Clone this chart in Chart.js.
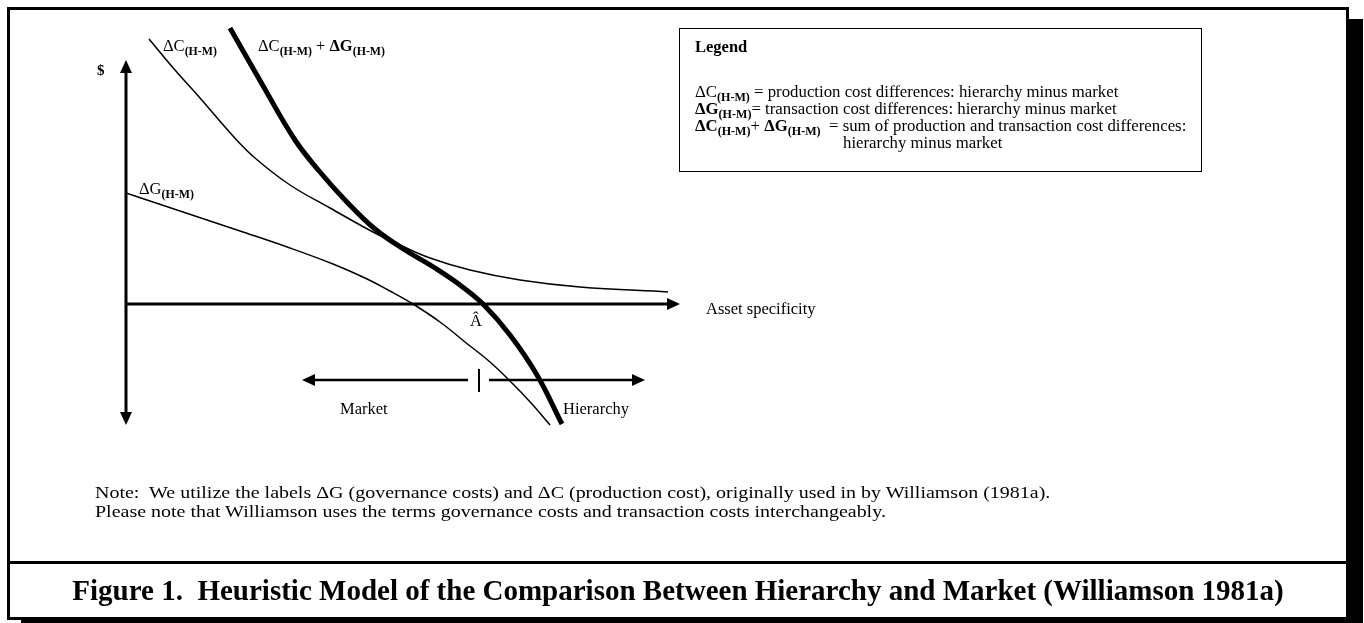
<!DOCTYPE html>
<html>
<head>
<meta charset="utf-8">
<script src="https://cdn.jsdelivr.net/npm/chart.js@4.4.1/dist/chart.umd.min.js"></script>
<style>
  body { margin: 0; background: #fff; font-family: "Liberation Serif", "Times New Roman", serif; color: #000; overflow: hidden; }
  #frame { position: absolute; left: 7px; top: 7px; width: 1336px; height: 607px; border: 3px solid #000; background: #fff; box-shadow: 14px 12px 0 #000; }
  #divider { position: absolute; left: 7px; top: 561px; width: 1342px; height: 3px; background: #000; }
  #wrap { position: absolute; left: 0; top: 0; width: 1364px; height: 623px; }
  .lbl { position: absolute; font-size: 16.5px; white-space: nowrap; line-height: 1; }
  sub { font-size: 0.72em; font-weight: bold; vertical-align: -0.3em; line-height: 0; }
  #legend { position: absolute; left: 679px; top: 28px; width: 521px; height: 142px; border: 1.5px solid #000; }
  #legend .title { position: absolute; left: 15px; top: 10px; font-weight: bold; font-size: 16.5px; line-height: 1; }
  #legend .rows { position: absolute; left: 15px; top: 54px; font-size: 16.8px; line-height: 17px; white-space: nowrap; }
  #note { position: absolute; left: 95px; top: 483px; font-size: 17px; line-height: 19px; white-space: nowrap; transform: scaleX(1.176); transform-origin: 0 0; }
  #caption { position: absolute; left: 7px; width: 1342px; top: 575px; text-align: center; font-weight: bold; font-size: 29px; line-height: 30px; white-space: nowrap; }
  canvas { position: absolute; left: 0; top: 0; }
</style>
</head>
<body>
<div id="frame"></div>
<div id="divider"></div>
<div id="wrap">
  <canvas id="chart" width="1364" height="623"></canvas>
</div>

<div class="lbl" style="left:97px; top:63px; font-weight:bold; font-size:15px;">$</div>
<div class="lbl" style="left:163px; top:38px;">&Delta;C<sub>(H-M)</sub></div>
<div class="lbl" style="left:258px; top:38px;">&Delta;C<sub>(H-M)</sub> + <b>&Delta;G</b><sub>(H-M)</sub></div>
<div class="lbl" style="left:139px; top:181px;">&Delta;G<sub>(H-M)</sub></div>
<div class="lbl" style="left:706px; top:301px;">Asset specificity</div>
<div class="lbl" style="left:470px; top:313px;">&Acirc;</div>
<div class="lbl" style="left:340px; top:401px;">Market</div>
<div class="lbl" style="left:563px; top:401px;">Hierarchy</div>

<div id="legend">
  <div class="title">Legend</div>
  <div class="rows">
    &Delta;C<sub>(H-M)</sub> = production cost differences: hierarchy minus market<br>
    <b>&Delta;G</b><sub>(H-M)</sub>= transaction cost differences: hierarchy minus market<br>
    <b>&Delta;C</b><sub>(H-M)</sub>+ <b>&Delta;G</b><sub>(H-M)</sub> &nbsp;= sum of production and transaction cost differences:<br>
    <span style="padding-left:148px;">hierarchy minus market</span>
  </div>
</div>

<div id="note">
  Note:&nbsp; We utilize the labels &Delta;G (governance costs) and &Delta;C (production cost), originally used in by Williamson (1981a).<br>
  Please note that Williamson uses the terms governance costs and transaction costs interchangeably.
</div>

<div id="caption">Figure 1.&nbsp; Heuristic Model of the Comparison Between Hierarchy and Market (Williamson 1981a)</div>

<script>
// asset specificity (x) and cost difference (y), origin where the two axes cross
const costX = [23, 49, 74, 107, 129, 164, 204, 247, 274, 304, 344, 394, 454, 542];
const costY = [265, 234, 206, 168, 146, 119, 96, 72, 59, 46, 34, 24, 17, 12];

const govX = [0, 54, 114, 164, 207, 239, 264, 287, 314, 339, 364, 387, 406, 424];
const govY = [111, 93, 73, 56, 40, 26, 13, 0, -18, -38, -58, -80, -100, -121];

const sumX = [104, 136, 169, 194, 219, 249, 279, 309, 334, 357, 384, 411, 436];
const sumY = [276, 220, 164, 132, 104, 75, 54, 36, 19, 0, -31, -71, -120];

// axes and the market / hierarchy split
const xAxisEnd = 554;
const yAxisTop = 244;
const yAxisBottom = -121;
const splitY = -76;
const marketArrow = [176, 342];
const hierarchyArrow = [363, 519];
const splitAt = 353;
const splitTick = [-65, -88];

function pts(xs, ys) {
    return xs.map((x, i) => ({ x: x, y: ys[i] }));
}

function arrowHead(ctx, x, y, dx, dy, len, half) {
    const px = -dy, py = dx;
    ctx.beginPath();
    ctx.moveTo(x, y);
    ctx.lineTo(x - dx * len + px * half, y - dy * len + py * half);
    ctx.lineTo(x - dx * len - px * half, y - dy * len - py * half);
    ctx.closePath();
    ctx.fill();
}

const axesPlugin = {
    id: "axesArrows",
    beforeDatasetsDraw(chart) {
        const ctx = chart.ctx;
        const sx = chart.scales.x, sy = chart.scales.y;
        const X = v => sx.getPixelForValue(v);
        const Y = v => sy.getPixelForValue(v);

        ctx.save();
        ctx.strokeStyle = "#000";
        ctx.fillStyle = "#000";
        ctx.lineWidth = 3;

        // vertical axis
        ctx.beginPath();
        ctx.moveTo(X(0), Y(yAxisTop) + 8);
        ctx.lineTo(X(0), Y(yAxisBottom) - 8);
        ctx.stroke();
        arrowHead(ctx, X(0), Y(yAxisTop), 0, -1, 13, 6);
        arrowHead(ctx, X(0), Y(yAxisBottom), 0, 1, 13, 6);

        // horizontal axis
        ctx.beginPath();
        ctx.moveTo(X(0), Y(0));
        ctx.lineTo(X(xAxisEnd) - 8, Y(0));
        ctx.stroke();
        arrowHead(ctx, X(xAxisEnd), Y(0), 1, 0, 13, 6);

        // market / hierarchy arrows
        ctx.lineWidth = 2.5;
        ctx.beginPath();
        ctx.moveTo(X(marketArrow[0]) + 8, Y(splitY));
        ctx.lineTo(X(marketArrow[1]), Y(splitY));
        ctx.moveTo(X(hierarchyArrow[0]), Y(splitY));
        ctx.lineTo(X(hierarchyArrow[1]) - 8, Y(splitY));
        ctx.stroke();
        arrowHead(ctx, X(marketArrow[0]), Y(splitY), -1, 0, 13, 6);
        arrowHead(ctx, X(hierarchyArrow[1]), Y(splitY), 1, 0, 13, 6);

        ctx.lineWidth = 2;
        ctx.beginPath();
        ctx.moveTo(X(splitAt), Y(splitTick[0]));
        ctx.lineTo(X(splitAt), Y(splitTick[1]));
        ctx.stroke();
        ctx.restore();
    }
};

const ctx = document.getElementById("chart").getContext("2d");

new Chart(ctx, {
    type: "scatter",
    data: {
        datasets: [
            {
                label: "ΔC(H-M)",
                data: pts(costX, costY),
                showLine: true,
                borderColor: "#000",
                borderWidth: 1.5,
                pointRadius: 0,
                tension: 0.4
            },
            {
                label: "ΔG(H-M)",
                data: pts(govX, govY),
                showLine: true,
                borderColor: "#000",
                borderWidth: 1.5,
                pointRadius: 0,
                tension: 0.4
            },
            {
                label: "ΔC(H-M) + ΔG(H-M)",
                data: pts(sumX, sumY),
                showLine: true,
                borderColor: "#000",
                borderWidth: 5,
                pointRadius: 0,
                tension: 0.4
            }
        ]
    },
    options: {
        responsive: false,
        animation: false,
        layout: { padding: 0 },
        plugins: {
            legend: { display: false },
            tooltip: { enabled: false }
        },
        scales: {
            x: { type: "linear", min: -126, max: 1238, display: false },
            y: { type: "linear", min: -319, max: 304, display: false }
        }
    },
    plugins: [axesPlugin]
});
</script>
</body>
</html>
